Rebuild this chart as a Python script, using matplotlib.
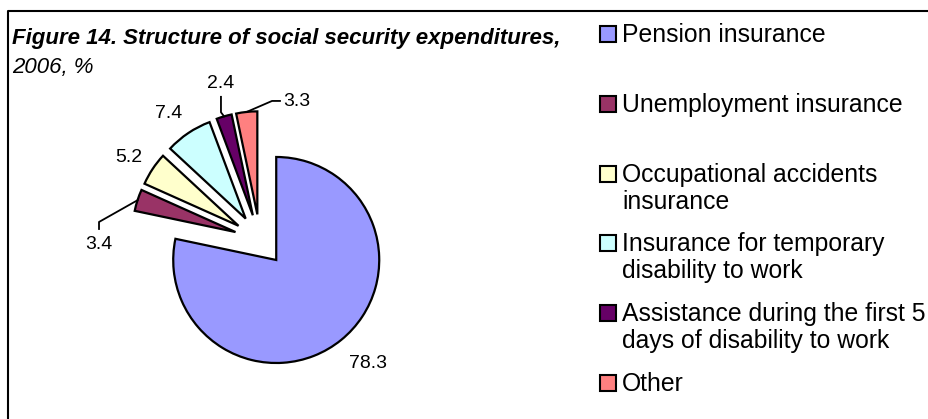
import matplotlib
matplotlib.use("Agg")
import matplotlib.pyplot as plt
from matplotlib.patches import Rectangle
from matplotlib.lines import Line2D
import numpy as np

plt.rcParams['font.family'] = ['Liberation Sans', 'DejaVu Sans']

# data
categories = ["Pension insurance", "Unemployment insurance",
              "Occupational accidents\ninsurance",
              "Insurance for temporary\ndisability to work",
              "Assistance during the first 5\ndays of disability to work",
              "Other"]
values = [78.3, 3.4, 5.2, 7.4, 2.4, 3.3]
colors = ["#9999FF", "#993366", "#FFFFCC", "#CCFFFF", "#660066", "#FF8080"]

W, H = 929, 419
fig = plt.figure(figsize=(W / 100, H / 100), dpi=100)
ax = fig.add_axes([0, 0, 1, 1])

# pie centre at pixel (260, 240), radius 103 px
cx, cy, rpx = 260, 240, 103
wedges, _ = ax.pie(values, explode=[0.25] * len(values), startangle=90,
                   counterclock=False, colors=colors,
                   wedgeprops=dict(edgecolor="black", linewidth=1.6))
ax.set_aspect('auto')
ax.set_xlim(-cx / rpx, (W - cx) / rpx)
ax.set_ylim(-(H - cy) / rpx, cy / rpx)
ax.axis('off')

# value labels (positions in pie units)
label_pos = [(1.05, -1.20), (-1.56, -0.04), (-1.27, 0.80),
             (-0.89, 1.23), (-0.38, 1.52), (0.36, 1.34)]
for v, (lx, ly) in zip(values, label_pos):
    ax.text(lx, ly, f"{v:.1f}", ha='center', va='center', fontsize=14)

# leader lines: from the wedge's outer arc middle to the label
leaders = {1: [(-1.563, 0.175), (-1.563, 0.107)],
           4: [(-0.379, 1.24), (-0.379, 1.39)],
           5: [(0.117, 1.35), (0.194, 1.35)]}
for i, pts in leaders.items():
    w = wedges[i]
    tm = np.deg2rad((w.theta1 + w.theta2) / 2)
    ax0, ay0 = w.center[0] + w.r * np.cos(tm), w.center[1] + w.r * np.sin(tm)
    xs = [ax0] + [p[0] for p in pts]
    ys = [ay0] + [p[1] for p in pts]
    ax.plot(xs, ys, color='black', lw=1.3)

# title
fig.text(12 / W, 1 - 44 / H, "Figure 14. Structure of social security expenditures,",
         fontsize=16, fontweight='bold', fontstyle='italic', va='baseline')
fig.text(12 / W, 1 - 73 / H, "2006, %", fontsize=16, fontstyle='italic', va='baseline')

# legend
for i, (lab, c) in enumerate(zip(categories, colors)):
    base = 42 + 69.8 * i
    fig.patches.append(Rectangle((600 / W, 1 - base / H), 16 / W, 16 / H,
                                 transform=fig.transFigure, facecolor=c,
                                 edgecolor='black', linewidth=1.5))
    for j, line in enumerate(lab.split("\n")):
        fig.text(622 / W, 1 - (base + 27 * j) / H, line, fontsize=17.8,
                 va='baseline')

# chart frame (left and top edges visible)
fig.lines.append(Line2D([8 / W, 8 / W, 1], [0, 1 - 11 / H, 1 - 11 / H],
                        transform=fig.transFigure, color='black', lw=1.5))

fig.savefig("out.png", dpi=100)
